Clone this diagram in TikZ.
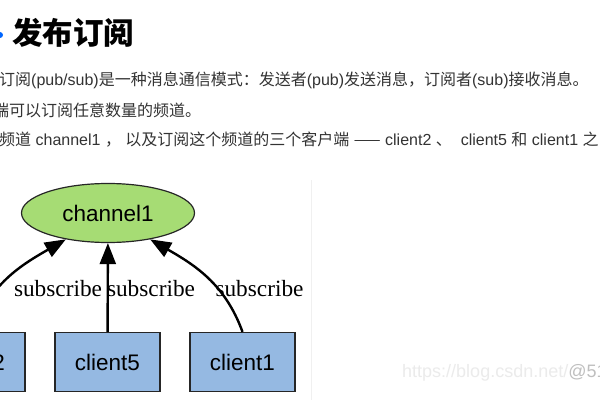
\documentclass[tikz,border=0pt]{standalone}
\usepackage{fontspec}
\usepackage{tikz}
\usetikzlibrary{shapes.geometric,arrows.meta}
\setmainfont{Liberation Serif}
\newfontfamily\cjk{Noto Sans CJK SC}
\newfontfamily\arial{Liberation Sans}
\newcommand{\lat}[1]{{\arial #1}}
\definecolor{chgreen}{HTML}{A6DC74}
\definecolor{clblue}{HTML}{95B9E2}
\definecolor{bodytext}{HTML}{333333}

\begin{document}
\begin{tikzpicture}[x=1pt, y=1pt,
    channel/.style = {ellipse, draw = black!85, line width = 1.2pt, fill = chgreen,
                      minimum width = 173pt, minimum height = 59pt, inner sep = 0pt,
                      font = \arial\fontsize{22.5}{24}\selectfont},
    client/.style = {rectangle, draw = black!85, line width = 1.3pt, fill = clblue,
                     minimum width = 105pt, minimum height = 59pt, inner sep = 0pt,
                     font = \arial\fontsize{22.5}{24}\selectfont},
    sub/.style = {line width = 2.4pt, -{Triangle[length = 21pt, width = 16pt]}},
    sublabel/.style = {font = \fontsize{23.3}{24}\selectfont, inner sep = 0pt},
    para/.style = {anchor = west, inner sep = 0pt, text = bodytext,
                   font = \cjk\fontsize{16}{17}\selectfont}]
    \useasboundingbox [fill = white] (0,0) rectangle (600,400);

    % heading and text
    \fill [blue!60!cyan] (0,365) circle (3);
    \node [anchor = west, inner sep = 0pt, font = \cjk\bfseries\fontsize{30.5}{32}\selectfont]
        (title) at (12,367) {发布订阅};
    \node [para] (line1) at (-1,320)
        {订阅\lat{(pub/sub)}是一种消息通信模式：发送者\lat{(pub)}发送消息，订阅者\lat{(sub)}接收消息。};
    \node [para] (line2) at (-7,290) {端可以订阅任意数量的频道。};
    \node [para] (line3) at (-1,260)
        {频道\lat{ channel1 }，\lat{ }以及订阅这个频道的三个客户端\lat{ }——\lat{ client2 }、\lat{ \ client5 }和\lat{ client1 }之};

    \draw [black!6] (311,0) -- (311,220);

    % the graph
    \node [channel] (ch) at (108,187) {channel1};
    \node [client] (c2) at (-27.5,38) {client2};
    \node [client] (c5) at (107.5,38) {client5};
    \node [client] (c1) at (242.5,38) {client1};

    \draw [sub] (c2.north) to [out = 70, in = -150] (ch.-148);
    \draw [sub] (c5) -- (ch);
    \draw [sub] (c1.north) to [out = 110, in = -30] (ch.-32);

    \node [sublabel] (s2) at (58,111) {subscribe};
    \node [sublabel] (s5) at (151,111) {subscribe};
    \node [sublabel] (s1) at (259.5,111) {subscribe};

    \node [anchor = west, inner sep = 0pt, font = \arial\fontsize{18}{20}\selectfont]
        (mark) at (402,27) {\textcolor{black!8}{https://blog.csdn.net/}\textcolor{black!25}{@51}};
\end{tikzpicture}
\end{document}
